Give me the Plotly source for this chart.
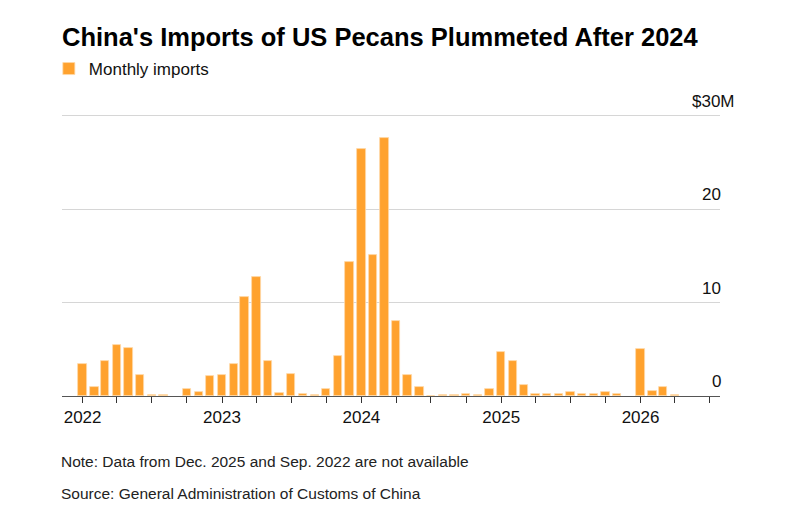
import plotly.graph_objects as go

months = [
    "2022-01", "2022-02", "2022-03", "2022-04", "2022-05", "2022-06", "2022-07", "2022-08",
    "2022-10", "2022-11", "2022-12",
    "2023-01", "2023-02", "2023-03", "2023-04", "2023-05", "2023-06", "2023-07", "2023-08",
    "2023-09", "2023-10", "2023-11", "2023-12",
    "2024-01", "2024-02", "2024-03", "2024-04", "2024-05", "2024-06", "2024-07", "2024-08",
    "2024-09", "2024-10", "2024-11", "2024-12",
    "2025-01", "2025-02", "2025-03", "2025-04", "2025-05", "2025-06", "2025-07", "2025-08",
    "2025-09", "2025-10", "2025-11",
    "2026-01", "2026-02", "2026-03", "2026-04",
]
imports_musd = [
    3.4, 0.93, 3.7, 5.5, 5.1, 2.2, 0.15, 0.1,
    0.75, 0.45, 2.1,
    2.3, 3.4, 10.6, 12.7, 3.75, 0.35, 2.4, 0.25,
    0.15, 0.8, 4.3, 14.4,
    26.5, 15.1, 27.6, 8.0, 2.3, 0.93, 0.0, 0.15,
    0.15, 0.2, 0.15, 0.8,
    4.7, 3.8, 1.2, 0.2, 0.2, 0.2, 0.4, 0.2,
    0.2, 0.4, 0.2,
    5.0, 0.57, 1.0, 0.1,
]
y_ticks = [0, 10, 20, 30]
y_labels = ["0", "10", "20", "$30M"]
quarter_ticks = [f"{y}-{m:02d}-01" for y in range(2022, 2027) for m in (1, 4, 7, 10)]
quarter_text = [d[:4] if d[5:7] == "01" else "" for d in quarter_ticks]

ORANGE = "#FFA22E"
FONT = "Liberation Sans, Arial, sans-serif"

# plot area offsets (pixels)
OFF = 8
L, T, B = 62 - OFF, 114 - OFF, 396 - OFF
R = 720 - OFF
PH = B - T


def px_y(py):
    return (396 - py) / PH


fig = go.Figure()
fig.add_trace(go.Bar(
    x=[m + "-01" for m in months], y=imports_musd, name="Monthly imports",
    marker=dict(color=ORANGE, line=dict(color="#FFD9A8", width=0.8)),
    width=22 * 24 * 3600 * 1000, showlegend=True,
))

for v, t in zip(y_ticks, y_labels):
    # the unit label hangs a little past the right edge
    shift = 17 if t.startswith("$") else 3
    fig.add_annotation(x=1, xref="paper", y=v, yref="y", text=t, showarrow=False,
                       xanchor="right", yanchor="bottom", yshift=3, xshift=shift,
                       font=dict(size=17, color="#111"))

fig.add_annotation(x=0, xref="paper", y=px_y(461), yref="paper",
                   text="Note: Data from Dec. 2025 and Sep. 2022 are not available",
                   showarrow=False, xanchor="left", yanchor="middle", xshift=-3,
                   font=dict(size=15.5, color="#222"))
fig.add_annotation(x=0, xref="paper", y=px_y(493), yref="paper",
                   text="Source: General Administration of Customs of China",
                   showarrow=False, xanchor="left", yanchor="middle", xshift=-3,
                   font=dict(size=15.5, color="#222"))

fig.update_layout(
    width=787, height=510,
    margin=dict(l=L, r=787 - R, t=T, b=510 - B),
    plot_bgcolor="white", paper_bgcolor="white",
    font=dict(family=FONT, color="#111"),
    title=dict(text="<b>China's Imports of US Pecans Plummeted After 2024</b>",
               x=(62 - OFF) / 787, xanchor="left", y=1 - (37 - OFF) / 510, yanchor="middle",
               font=dict(size=25.5, color="#000")),
    legend=dict(orientation="h", x=-0.02, xanchor="left", y=px_y(69), yanchor="middle",
                font=dict(size=17), itemwidth=30),
    bargap=0,
    xaxis=dict(type="date", range=["2021-11-08", "2026-07-28"],
               tickvals=quarter_ticks, ticktext=quarter_text,
               ticks="outside", ticklen=6, tickcolor="#333", tickwidth=1,
               showgrid=False, showline=True, linecolor="#555", linewidth=1,
               tickfont=dict(size=17, color="#111")),
    yaxis=dict(range=[0, 30.2], tickvals=y_ticks, showticklabels=False,
               gridcolor="#d6d6d6", gridwidth=1, zeroline=False, fixedrange=True),
)

fig.write_html("out.html")
